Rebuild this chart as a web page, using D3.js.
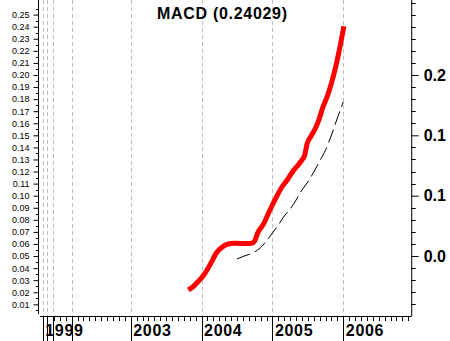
<!DOCTYPE html>
<html>
<head>
<meta charset="utf-8">
<script src="https://cdn.jsdelivr.net/npm/d3@7"></script>
<style>
  html, body { margin: 0; padding: 0; background: #fff; }
  svg { display: block; }
  text { font-family: "Liberation Sans", Arial, sans-serif; }
</style>
</head>
<body>
<svg id="chart" width="450" height="341"></svg>
<script>
// Month index: 0 = Jan 2003 (the axis is compressed before 2003)
const macdMonths = [9.75, 10.5, 11.5, 12.5, 13.5, 14.5, 15.5, 16.5, 17.5, 18.5, 19.5, 20.5, 21.0, 21.5, 22.5, 23.5, 24.5, 25.5, 26.5, 27.5, 28.5, 29.0, 29.4, 29.9, 30.5, 31.3, 31.8, 32.5, 33.5, 34.5, 35.5, 36.1];
const macdValues = [0.0219, 0.0244, 0.0293, 0.0351, 0.0434, 0.0525, 0.0575, 0.0600, 0.0606, 0.0604, 0.0604, 0.0606, 0.0625, 0.0691, 0.0766, 0.0873, 0.0973, 0.1064, 0.1130, 0.1205, 0.1263, 0.1296, 0.1325, 0.1436, 0.1490, 0.1560, 0.1620, 0.1727, 0.1852, 0.2025, 0.2249, 0.24029];

const signalMonths = [18, 19, 20, 21, 22, 23, 24, 25, 26, 27, 28, 29, 30, 31, 32, 33, 34, 35, 36];
const signalValues = [0.0476, 0.0496, 0.0513, 0.0534, 0.0571, 0.0625, 0.0691, 0.0757, 0.0832, 0.0889, 0.0964, 0.1047, 0.1114, 0.1196, 0.1287, 0.1379, 0.1503, 0.1644, 0.1777];

const yearLabels = ["1999", "2000", "2001", "2002", "2003", "2004", "2005", "2006"];
const yearMonths = [-14.9, -14.1, -13.1, -10.0, 0, 12, 24, 36];

const leftTickValues = d3.range(1, 26).map(i => i / 100);
const rightTickValues = [0.05, 0.10, 0.15, 0.20];
const rightTickLabels = ["0.0", "0.1", "0.1", "0.2"];

const title = "MACD (0.24029)";

const svg = d3.select("#chart");
const plotLeft = 38.5, plotRight = 411.7, plotTop = 0, plotBottom = 316;

const x = d3.scaleLinear().domain([-15.61, 47.58]).range([plotLeft, plotRight]);
const y = d3.scaleLinear().domain([0, 0.2621]).range([316.4, 0]);

// vertical dashed year gridlines
svg.append("g").selectAll("line").data(yearMonths).join("line")
  .attr("x1", d => Math.round(x(d)) + 0.5).attr("x2", d => Math.round(x(d)) + 0.5)
  .attr("y1", plotTop).attr("y2", plotBottom)
  .attr("stroke", "#c0c0c0").attr("stroke-width", 1).attr("stroke-dasharray", "4,3");

// left axis (small labels every 0.01, minor ticks at 0.005)
const leftAxis = d3.axisLeft(y)
  .tickValues(leftTickValues)
  .tickFormat(d3.format(".2f"))
  .tickSize(5).tickPadding(4);
const gl = svg.append("g").attr("transform", `translate(${plotLeft},0)`).call(leftAxis);
gl.select(".domain").remove();
gl.selectAll("text").attr("font-size", 9).attr("font-family", "Liberation Sans, Arial, sans-serif").attr("fill", "#000");
gl.selectAll("line").attr("stroke", "#000");
const leftMinor = d3.range(0, 26).map(i => i / 100 + 0.005);
svg.append("g").selectAll("line").data(leftMinor).join("line")
  .attr("x1", plotLeft - 2.5).attr("x2", plotLeft)
  .attr("y1", d => Math.round(y(d)) + 0.5).attr("y2", d => Math.round(y(d)) + 0.5)
  .attr("stroke", "#000");

// right axis (major every 0.05 with truncated labels, minor every 0.01)
const rightMinor = d3.range(1, 27).map(i => i / 100).filter(v => !rightTickValues.some(m => Math.abs(m - v) < 1e-9));
svg.append("g").selectAll("line").data(rightMinor).join("line")
  .attr("x1", plotRight).attr("x2", plotRight + 4)
  .attr("y1", d => Math.round(y(d)) + 0.5).attr("y2", d => Math.round(y(d)) + 0.5)
  .attr("stroke", "#000");
const rightAxis = d3.axisRight(y)
  .tickValues(rightTickValues)
  .tickFormat((d, i) => rightTickLabels[i])
  .tickSize(7).tickPadding(5);
const gr = svg.append("g").attr("transform", `translate(${plotRight},0)`).call(rightAxis);
gr.select(".domain").remove();
gr.selectAll("line").attr("stroke", "#000");
gr.selectAll("text").attr("font-size", 16).attr("font-weight", "bold")
  .attr("font-family", "Liberation Sans, Arial, sans-serif").attr("fill", "#000");

// frame lines
svg.append("line").attr("x1", plotLeft).attr("x2", plotLeft).attr("y1", 0).attr("y2", 314).attr("stroke", "#000");
svg.append("line").attr("x1", plotRight).attr("x2", plotRight).attr("y1", 0).attr("y2", plotBottom).attr("stroke", "#000");
svg.append("line").attr("x1", 40).attr("x2", plotRight).attr("y1", plotBottom + 0.5).attr("y2", plotBottom + 0.5).attr("stroke", "#000");

// bottom axis: monthly minor ticks, long year ticks, year labels
const monthTicks = d3.range(-13, 48).filter(m => !yearMonths.includes(m));
svg.append("g").selectAll("line").data(monthTicks).join("line")
  .attr("x1", d => Math.round(x(d)) + 0.5).attr("x2", d => Math.round(x(d)) + 0.5)
  .attr("y1", plotBottom).attr("y2", plotBottom + 5)
  .attr("stroke", "#000");
svg.append("g").selectAll("line").data(yearMonths).join("line")
  .attr("x1", d => Math.round(x(d)) + 0.5).attr("x2", d => Math.round(x(d)) + 0.5)
  .attr("y1", plotBottom).attr("y2", 341)
  .attr("stroke", "#000");

// year labels, skipping any that would collide with the previous one
let lastEnd = -Infinity;
const labelG = svg.append("g");
yearLabels.forEach((lab, i) => {
  const lx = x(yearMonths[i]) + 2.5;
  if (lx < lastEnd + 2) return;
  const t = labelG.append("text")
    .attr("x", lx).attr("y", 335.5)
    .attr("font-size", 16).attr("font-weight", "bold")
    .attr("letter-spacing", 0.7)
    .attr("fill", "#000")
    .text(lab);
  lastEnd = lx + t.node().getComputedTextLength();
});

// signal line (thin dashed black)
const signalLine = d3.line().x((d, i) => x(signalMonths[i])).y(d => y(d)).curve(d3.curveMonotoneX);
svg.append("path").datum(signalValues)
  .attr("d", signalLine)
  .attr("fill", "none").attr("stroke", "#000").attr("stroke-width", 1)
  .attr("stroke-dasharray", "14,5");

// MACD line (thick red)
const macdLine = d3.line().x((d, i) => x(macdMonths[i])).y(d => y(d)).curve(d3.curveMonotoneX);
svg.append("path").datum(macdValues)
  .attr("d", macdLine)
  .attr("fill", "none").attr("stroke", "#ff0000").attr("stroke-width", 5)
  .attr("stroke-linejoin", "round").attr("stroke-linecap", "butt");

// title
svg.append("text")
  .attr("x", 157).attr("y", 19)
  .attr("font-size", 16).attr("font-weight", "bold").attr("letter-spacing", 0.7)
  .attr("fill", "#000")
  .text(title);
</script>
</body>
</html>
